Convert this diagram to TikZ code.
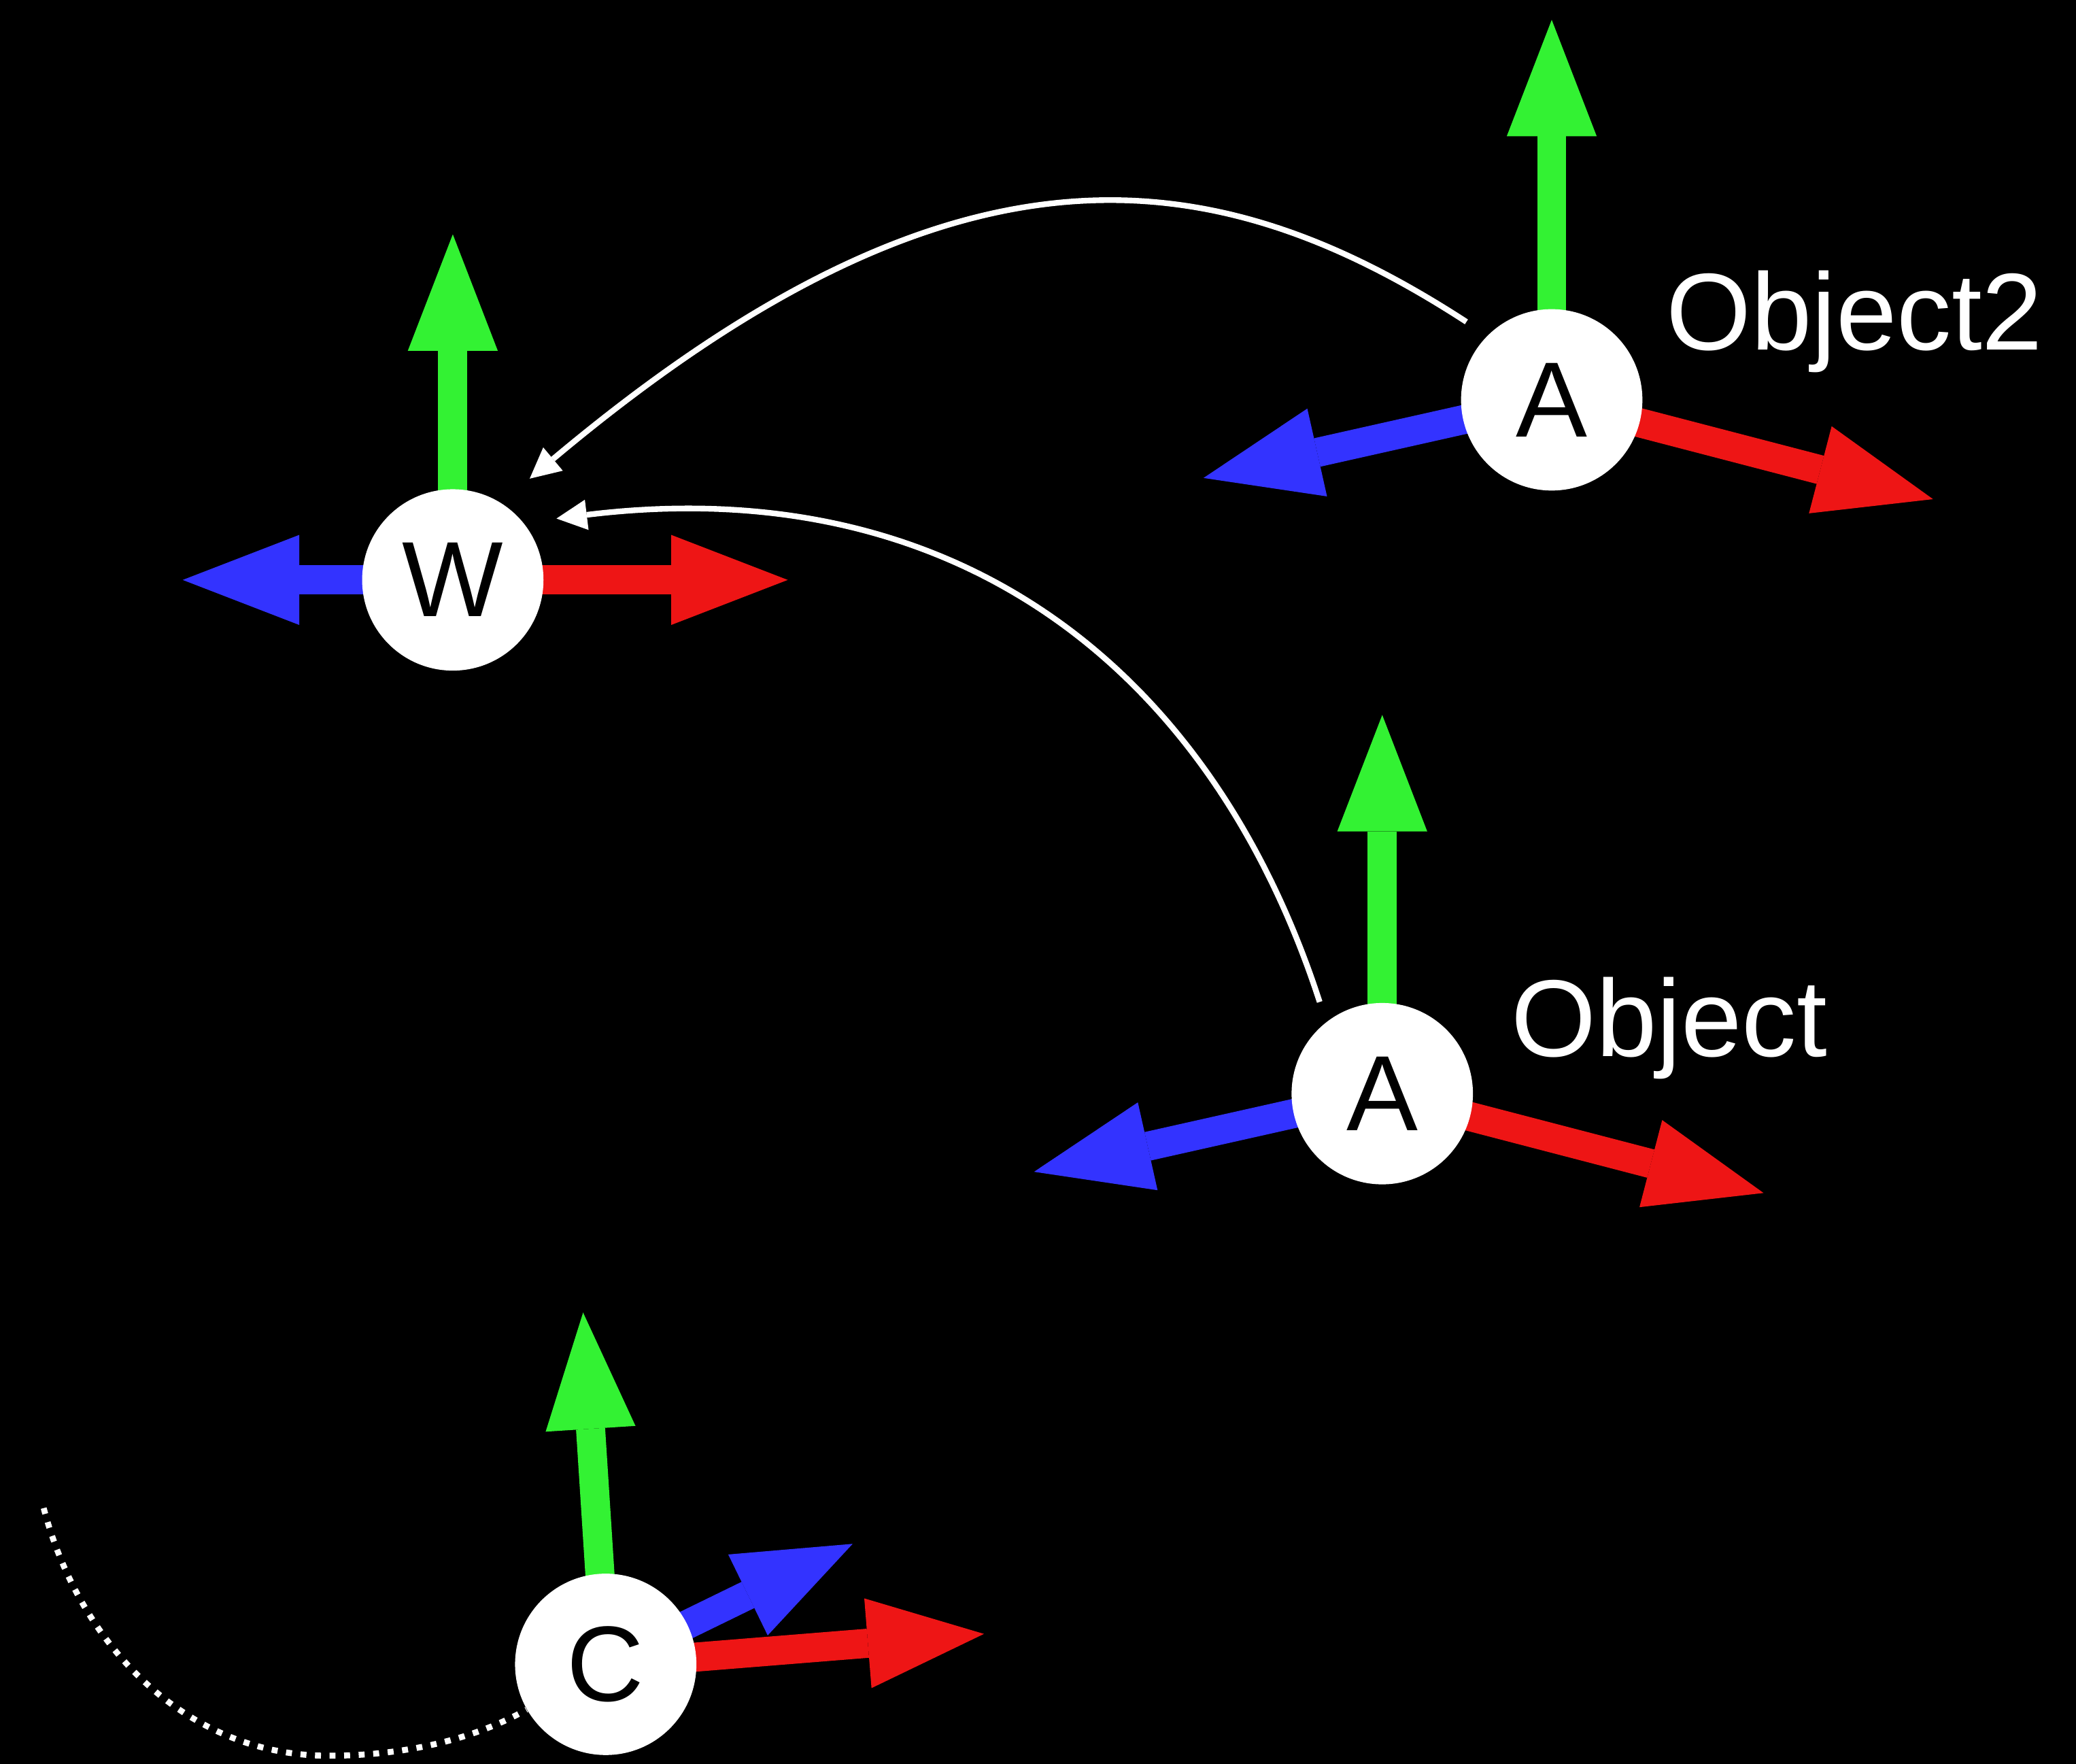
\documentclass[tikz,border=0pt]{standalone}
\usepackage{fontspec}
\setmainfont{Liberation Sans}
\usepackage{tikz}
\usetikzlibrary{arrows.meta, backgrounds}

\definecolor{axisred}{RGB}{238,21,21}
\definecolor{axisgreen}{RGB}{51,242,51}
\definecolor{axisblue}{RGB}{51,51,255}

\tikzset{
	frameball/.style={circle, fill=white, text=black, minimum size=2.74cm, inner sep=0pt, font=\fontsize{46}{55}\selectfont},
	axis/.style={line width=0.44cm, -{Triangle[length=1.76cm, width=1.36cm, line width=0pt]}},
	xaxis/.style={axis, draw=axisred},
	yaxis/.style={axis, draw=axisgreen},
	zaxis/.style={axis, draw=axisblue},
	link/.style={draw=white, line width=0.086cm, -{Triangle[length=0.46cm, width=0.46cm, line width=0pt]}},
	objlabel/.style={anchor=base west, inner sep=0pt, text=white, font=\fontsize{47}{56}\selectfont}
}

\begin{document}
\begin{tikzpicture}[x=0.02cm, y=0.02cm]
	\useasboundingbox (0,0) rectangle (1568,1332);
	% Frames and labels:
	\node[frameball] (W) at (342,894) {W};
	\node[frameball] (A2) at (1172,1030) {A};
	\node[frameball] (A1) at (1044,506) {A};
	\node[frameball] (C) at (457.5,75) {C};
	\node[objlabel] (obj2) at (1258,1068) {Object2};
	\node[objlabel] (obj1) at (1141,534) {Object};
	
	% Axis tips:
	\coordinate (Wx) at (595,894);
	\coordinate (Wy) at (342,1155);
	\coordinate (Wz) at (138,894);
	\coordinate (A2x) at (1460,955);
	\coordinate (A2y) at (1172,1317);
	\coordinate (A2z) at (909,971);
	\coordinate (A1x) at (1332,431);
	\coordinate (A1y) at (1044,792);
	\coordinate (A1z) at (781,447);
	\coordinate (Cx) at (743.2,98);
	\coordinate (Cy) at (440.4,340.7);
	\coordinate (Cz) at (644,166);
	
	\begin{scope}[on background layer]
		\fill[black] (-20,-20) rectangle (1588,1352);
		\draw[xaxis] (W.center) -- (Wx);
		\draw[yaxis] (W.center) -- (Wy);
		\draw[zaxis] (W.center) -- (Wz);
		\draw[xaxis] (A2.center) -- (A2x);
		\draw[yaxis] (A2.center) -- (A2y);
		\draw[zaxis] (A2.center) -- (A2z);
		\draw[xaxis] (A1.center) -- (A1x);
		\draw[yaxis] (A1.center) -- (A1y);
		\draw[zaxis] (A1.center) -- (A1z);
		\draw[xaxis] (C.center) -- (Cx);
		\draw[yaxis] (C.center) -- (Cy);
		\draw[zaxis] (C.center) -- (Cz);
	\end{scope}
	
	% Links to the world frame:
	\draw[link, shorten <=0.376cm, shorten >=0.564cm] (A2.135) .. controls +(147:250) and +(40:445) .. (W.58);
	\draw[link, shorten <=0.316cm, shorten >=0.5cm] (A1.128) .. controls +(108:285) and +(7:325) .. (W.39);
	
	% Camera path:
	\coordinate (camstart) at (33,193);
	\coordinate (cambottom) at (248,6);
	\draw[white, line width=0.09cm, dash pattern=on 0.09cm off 0.13cm] (camstart) .. controls (60,90) and (140,6) .. (cambottom) .. controls (320,6) and (370,25) .. (C);
\end{tikzpicture}
\end{document}
